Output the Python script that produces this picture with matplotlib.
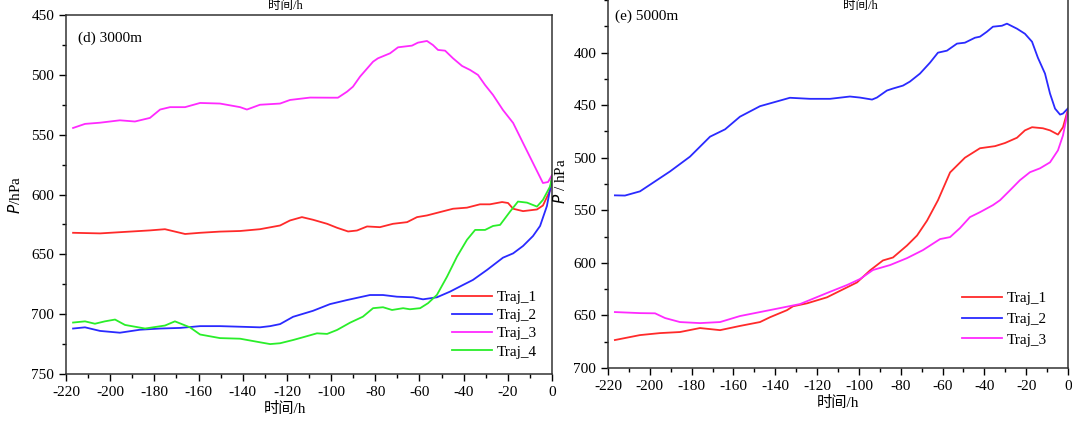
import matplotlib
matplotlib.use('Agg')
import matplotlib.pyplot as plt
from matplotlib.ticker import MultipleLocator

plt.rcParams['font.family'] = ['Liberation Serif', 'Noto Sans CJK SC']
plt.rcParams['font.size'] = 11
plt.rcParams['axes.unicode_minus'] = False

# ---- panel (d) 3000m ----
d_t1 = [-216.8, -204.6, -195.6, -182, -175.2, -166.1, -159.3, -150.3, -141.2, -132.2, -123.1,
        -118.6, -113.2, -108.2, -101.8, -97.3, -92.3, -88.3, -83.7, -77.9, -72.0, -65.6, -61.1,
        -56.6, -50.7, -44.8, -38.5, -32.6, -28.1, -22.6, -19.9, -17.6, -13.1, -6.8, -4.1, -0.9, 0]
d_p1 = [632, 632.5, 631.5, 630, 629, 633, 632, 631, 630.5, 629, 625.9,
        621.7, 618.9, 621.1, 624.5, 627.8, 630.9, 630.1, 626.7, 627.3, 624.5, 623.1, 618.9,
        617.5, 614.7, 611.9, 611.0, 608.2, 608.2, 606.3, 607.1, 611.9, 613.9, 612.5, 609.2, 596.7, 586]

d_t2 = [-216.8, -211.4, -204.6, -195.6, -186.5, -177.4, -168.4, -159.3, -150.3, -141.2, -132.2,
        -127.6, -123.1, -117.2, -108.2, -100.5, -92.8, -82.4, -76.5, -70.2, -62.9, -58.4, -52.1,
        -46.2, -40.3, -35.8, -29.4, -22.2, -17.6, -13.1, -8.6, -5.4, -2.3, 0]
d_p2 = [712, 711, 714, 715.5, 713, 712, 711.5, 710, 710, 710.5, 711,
        710, 708.3, 702.2, 697.2, 691.6, 688.2, 684.0, 684.0, 685.4, 685.9, 687.6, 685.9,
        681.2, 675.6, 671.4, 663.0, 652.8, 649.2, 643.0, 634.7, 626.3, 609.6, 587]

d_t3 = [-216.8, -211.4, -204.6, -195.6, -188.8, -182, -177.4, -172.9, -166.1, -159.3, -150.3,
        -141.2, -138.1, -132.2, -123.1, -118.6, -109.5, -100.5, -96.9, -92.8, -90.1, -86.9, -81.0,
        -78.8, -73.3, -69.7, -63.4, -60.7, -56.6, -53.9, -51.6, -48.4, -44.8, -40.7, -37.1, -33.5,
        -30.3, -26.7, -22.2, -17.6, -13.1, -8.6, -4.1, -1.8, 0]
d_p3 = [544.4, 541, 540, 538, 539, 536, 529, 527, 527, 523.5, 524,
        527, 529, 525, 524, 521, 519, 519.1, 519.1, 514.1, 509.9, 501.5, 489.0,
        486.2, 482.0, 477.0, 475.6, 473.1, 471.7, 475.1, 479.2, 479.8, 486.2, 492.6, 495.9, 500.1,
        508.5, 516.8, 529.4, 540.2, 557.0, 573.7, 590.4, 589.6, 583.8]

d_t4 = [-216.8, -211.4, -206.9, -202.4, -197.8, -193.3, -184.2, -175.2, -170.7, -163.9, -159.3,
        -150.3, -141.2, -132.2, -127.6, -123.1, -117.2, -112.7, -106.4, -101.8, -97.3, -91.4, -85.6,
        -81.0, -76.5, -72.4, -67.4, -64.3, -59.7, -56.1, -52.1, -47.5, -43.0, -38.5, -34.8, -30.3,
        -26.7, -23.5, -19.0, -15.4, -11.3, -6.8, -4.1, -0.9, 0]
d_p4 = [707, 706, 708, 706, 704.5, 709, 712, 709.5, 706, 711, 717,
        720, 720.5, 723.5, 725, 724.3, 721.6, 719.3, 716.0, 716.5, 713.2, 707.1, 702.1,
        695.0, 694.2, 696.5, 695.0, 695.9, 695.0, 690.8, 683.9, 668.6, 651.9, 637.9, 629.6, 629.6,
        626.3, 625.4, 614.3, 605.9, 606.8, 610.1, 604.5, 593.4, 586]

# ---- panel (e) 5000m ----
e_t1 = [-216.7, -204.7, -195.1, -185.6, -176.0, -166.4, -156.9, -147.3, -142.5, -134.4, -131.5,
        -124.8, -115.3, -107.6, -100.9, -94.7, -88.5, -83.7, -77.0, -72.2, -67.4, -62.2, -56.4,
        -49.3, -42.1, -34.9, -30.1, -24.4, -20.6, -17.2, -12.0, -8.6, -4.8, -2.4, 0]
e_p1 = [673.4, 668.7, 666.8, 665.8, 662.0, 664, 660, 656.3, 651.7, 645.0, 641.3,
        638.5, 632.8, 625.2, 618.6, 607.2, 597.7, 594.9, 583.5, 574.0, 559.8, 540.5, 514,
        500, 491, 489, 486, 481, 474, 471, 472, 474, 478, 471, 454]

e_t2 = [-216.7, -211.9, -204.7, -197.5, -190.3, -180.8, -171.2, -164, -156.9, -147.3, -133,
        -123.4, -113.8, -104.3, -99.5, -93.7, -91.4, -86.6, -83.7, -78.9, -75.6, -70.8, -66.0,
        -62.2, -57.9, -53.1, -49.3, -44.5, -42.1, -38.8, -35.9, -31.6, -29.2, -24.4, -20.6, -17.2,
        -14.4, -11.0, -8.6, -6.2, -3.8, -2.4, 0]
e_p2 = [535.8, 536, 532, 522.5, 513, 499, 480, 473, 461, 451, 443,
        444, 444, 441.8, 442.8, 444.7, 442.8, 436.1, 434.2, 431.4, 427.6, 420.0, 409.6,
        400.1, 398.2, 391.5, 390.6, 385.9, 384.9, 380.2, 375.4, 374.5, 372.5, 377.3, 382.1, 389.7,
        404.9, 420.0, 439.0, 453.3, 459.0, 458.0, 453]

e_t3 = [-216.7, -204.7, -197.5, -192.7, -185.6, -176.0, -166.4, -156.9, -147.3, -137.7, -128.2,
        -115.3, -105.7, -99.5, -93.3, -85.1, -77.0, -69.4, -61.2, -56.4, -51.7, -46.9, -42.1,
        -35.9, -32.5, -27.7, -23.0, -18.2, -13.4, -8.6, -4.8, -2.4, 0]
e_p3 = [646.8, 647.8, 648, 652.5, 656.3, 657.3, 656.3, 650.6, 646.8, 643.0, 639.2,
        628.7, 621.1, 615.4, 606.8, 602.1, 595.5, 587.9, 577.4, 575.5, 567.0, 556.5, 551.8,
        545.1, 540.4, 530.9, 521.4, 513.8, 510.1, 504.4, 493.0, 478.8, 455]

colors = {'Traj_1': '#ff2a2a', 'Traj_2': '#2a2aff', 'Traj_3': '#ff2aff', 'Traj_4': '#2aee2a'}
xticks = list(range(-220, 1, 20))

fig = plt.figure(figsize=(10.72, 4.21), dpi=100)
ax1 = fig.add_axes([66 / 1072, 1 - 374 / 421, 486 / 1072, 359 / 421])
ax2 = fig.add_axes([608 / 1072, 1 - 368 / 421, 460 / 1072, (368 + 5 * 1.0533) / 421])

ax1.plot(d_t1, d_p1, color=colors['Traj_1'], lw=1.3, label='Traj_1')
ax1.plot(d_t2, d_p2, color=colors['Traj_2'], lw=1.3, label='Traj_2')
ax1.plot(d_t3, d_p3, color=colors['Traj_3'], lw=1.3, label='Traj_3')
ax1.plot(d_t4, d_p4, color=colors['Traj_4'], lw=1.3, label='Traj_4')
ax1.set_xlim(-220, 0)
ax1.set_ylim(750, 450)
ax1.set_yticks([450, 500, 550, 600, 650, 700, 750])
ax1.text(0.025, 0.955, '(d) 3000m', transform=ax1.transAxes, va='top', ha='left')
ax1.set_ylabel(r'$\it{P}$/hPa', labelpad=6)
ax1.set_xlabel('时间/h', labelpad=2, x=0.45)
ax1.legend(loc='lower right', frameon=False, handlelength=2.6, handletextpad=0.3,
           labelspacing=0.3, borderaxespad=0.6, fontsize=11)

ax2.plot(e_t1, e_p1, color=colors['Traj_1'], lw=1.3, label='Traj_1')
ax2.plot(e_t2, e_p2, color=colors['Traj_2'], lw=1.3, label='Traj_2')
ax2.plot(e_t3, e_p3, color=colors['Traj_3'], lw=1.3, label='Traj_3')
ax2.set_xlim(-220, 0)
ax2.set_ylim(700, 345)
ax2.set_yticks([400, 450, 500, 550, 600, 650, 700])
ax2.text(0.015, 0.96, '(e) 5000m', transform=ax2.transAxes, va='top', ha='left')
ax2.set_ylabel(r'$\it{P}$ / hPa', labelpad=4)
ax2.set_xlabel('时间/h', labelpad=2)
ax2.legend(loc='lower right', frameon=False, handlelength=2.6, handletextpad=0.3,
           labelspacing=0.45, borderaxespad=1.0, fontsize=11)

for ax in (ax1, ax2):
    ax.set_xticks(xticks)
    ax.xaxis.set_minor_locator(MultipleLocator(10))
    ax.yaxis.set_minor_locator(MultipleLocator(25))
    ax.tick_params(which='major', direction='out', length=5, width=1, labelsize=11)
    ax.tick_params(which='minor', direction='out', length=3, width=1)
    ax.tick_params(axis='y', which='both', right=False)
    ax.tick_params(axis='x', which='both', top=False)
    for s in ax.spines.values():
        s.set_linewidth(1.1)
        s.set_color('#333333')

# labels of the panels above (kept inside the top edge)
fig.text(285 / 1072, 0.999, '时间/h', ha='center', va='top', fontsize=9)
fig.text(860 / 1072, 0.999, '时间/h', ha='center', va='top', fontsize=9)

fig.savefig('out.png', dpi=100)
